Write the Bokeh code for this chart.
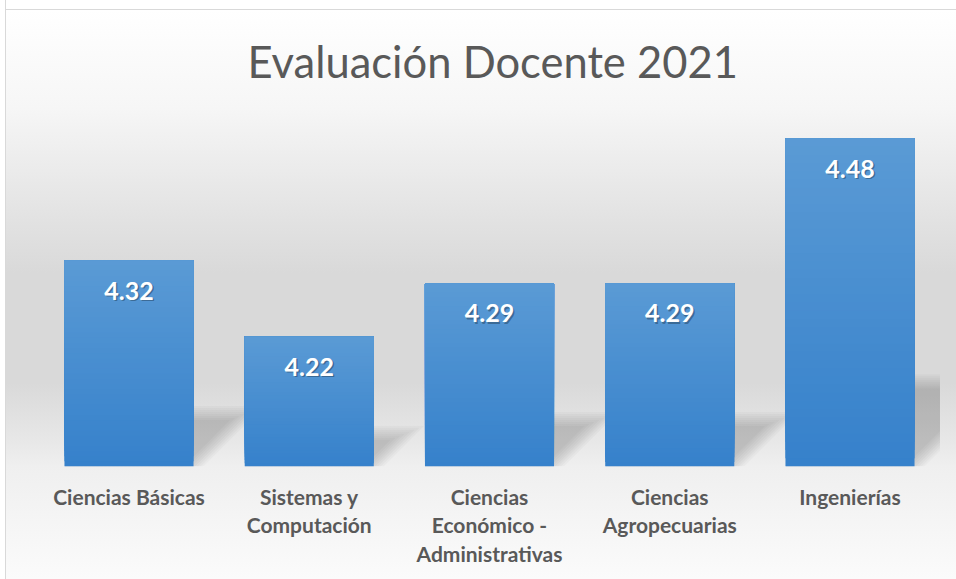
import numpy as np
from bokeh.plotting import figure
from bokeh.models import Range1d, FixedTicker, ColumnDataSource
from bokeh.core.properties import value
from bokeh.embed import file_html
from bokeh.resources import INLINE

# ---------------- data ----------------
categories = ["Ciencias Básicas", "Sistemas y Computación",
              "Ciencias Económico - Administrativas",
              "Ciencias Agropecuarias", "Ingenierías"]
tick_labels = ["Ciencias Básicas", "Sistemas y\nComputación",
               "Ciencias\nEconómico -\nAdministrativas",
               "Ciencias\nAgropecuarias", "Ingenierías"]
scores = [4.32, 4.22, 4.29, 4.29, 4.48]
score_labels = ["4.32", "4.22", "4.29", "4.29", "4.48"]
title_text = "Evaluación Docente 2021"
axis_min = 4.05

# ---------------- layout / style ----------------
PX_Y = 762.7          # pixels per score unit
PX_X = 180.25         # pixels per category
FRAME_W = 956
FRAME_H = 366
TOP_H = 100
BOTTOM_H = 113
BAR_W = 0.716
FONT = "Lato"
TXT_COLOR = "#595959"
BAR_TOP = np.array([0x5B, 0x9B, 0xD5], float)
BAR_BOT = np.array([0x36, 0x81, 0xCB], float)

x_start = -128.5 / PX_X
x_end = x_start + FRAME_W / PX_X
y_end = axis_min + FRAME_H / PX_Y
xs = np.arange(len(categories), dtype=float)

p = figure(frame_width=FRAME_W, frame_height=FRAME_H,
           x_range=Range1d(x_start, x_end), y_range=Range1d(axis_min, y_end),
           output_backend="svg", toolbar_location=None, y_axis_location=None,
           min_border_left=0, min_border_right=0, min_border_top=TOP_H,
           min_border_bottom=BOTTOM_H, title=title_text)

p.background_fill_color = None
p.border_fill_color = None
p.outline_line_color = None
p.xgrid.visible = False
p.ygrid.visible = False
p.styles = {
    "background": (
        "linear-gradient(to right, #ffffff 0px, #ffffff 5px, #d9d9d9 5px, "
        "#d9d9d9 6px, rgba(255,255,255,0) 6px), "
        "linear-gradient(to bottom, #ffffff 0px, #ffffff 9px, #d9d9d9 9px, "
        "#d9d9d9 10px, #ffffff 10px, #f6f6f6 108px, #e6e6e6 198px, "
        "#d9d9d9 273px, #d9d9d9 383px, #e8e8e8 443px, #efefef 466px, "
        "#fbfbfb 579px)"
    )
}

# title
p.title.text_font = FONT
p.title.text_font_size = "43.5px"
p.title.text_font_style = "normal"
p.title.text_color = TXT_COLOR
p.title.align = "left"
p.title.offset = 247
p.title.standoff = 27

# ---------------- shadows ----------------
def clip_right(pts, xmax):
    out = []
    n = len(pts)
    for i in range(n):
        a, b = pts[i], pts[(i + 1) % n]
        ain, bin_ = a[0] <= xmax, b[0] <= xmax
        if ain:
            out.append(a)
        if ain != bin_:
            t = (xmax - a[0]) / (b[0] - a[0])
            out.append((xmax, a[1] + t * (b[1] - a[1])))
    return out

sh_xs, sh_ys = [], []
x_clip = len(categories) - 0.5
for d in np.linspace(-7, 7, 8):
    for x, v in zip(xs, scores):
        h = (v - axis_min) * PX_Y
        s = 0.26 * h - d
        xl = (x - BAR_W / 2) * PX_X
        xr = (x + BAR_W / 2) * PX_X - 1.41 * d
        pts_px = [(xl, 0), (xr, 0), (xr + s, s), (xl + s, s)]
        pts = [(px / PX_X, axis_min + py / PX_Y) for px, py in pts_px]
        pts = clip_right(pts, x_clip)
        sh_xs.append([q[0] for q in pts])
        sh_ys.append([q[1] for q in pts])
p.patches(sh_xs, sh_ys, fill_color="black", fill_alpha=0.024, line_color=None)

# ---------------- bars (vertical gradient) ----------------
N = 40
lefts, rights, bottoms, tops, colors = [], [], [], [], []
for k in range(N):
    f = k / N
    c = BAR_BOT + (BAR_TOP - BAR_BOT) * f
    col = "#%02x%02x%02x" % tuple(int(round(t)) for t in c)
    for x, v in zip(xs, scores):
        lefts.append(x - BAR_W / 2)
        rights.append(x + BAR_W / 2)
        bottoms.append(axis_min + f * (v - axis_min))
        tops.append(v)
        colors.append(col)
p.quad(left=lefts, right=rights, bottom=bottoms, top=tops,
       fill_color=colors, line_color=None)

# ---------------- data labels ----------------
src = ColumnDataSource(dict(x=xs, y=scores, t=score_labels))
p.text(x="x", y="y", text="t", source=src, x_offset=1.5, y_offset=31.5,
       text_align="center", text_baseline="middle",
       text_font=value(FONT), text_font_style="bold", text_font_size="25px",
       text_color="black", text_alpha=0.3)
p.text(x="x", y="y", text="t", source=src, y_offset=30,
       text_align="center", text_baseline="middle",
       text_font=value(FONT), text_font_style="bold", text_font_size="25px",
       text_color="white")

# ---------------- x axis ----------------
xa = p.xaxis[0]
xa.ticker = FixedTicker(ticks=list(range(len(categories))))
xa.major_label_overrides = {i: lbl for i, lbl in enumerate(tick_labels)}
xa.axis_line_color = None
xa.major_tick_line_color = None
xa.minor_tick_line_color = None
xa.major_label_text_font = FONT
xa.major_label_text_font_size = "21px"
xa.major_label_text_font_style = "bold"
xa.major_label_text_color = TXT_COLOR
xa.major_label_text_line_height = 1.14
xa.major_label_standoff = 11

open("out.html", "w").write(file_html(p, INLINE))
